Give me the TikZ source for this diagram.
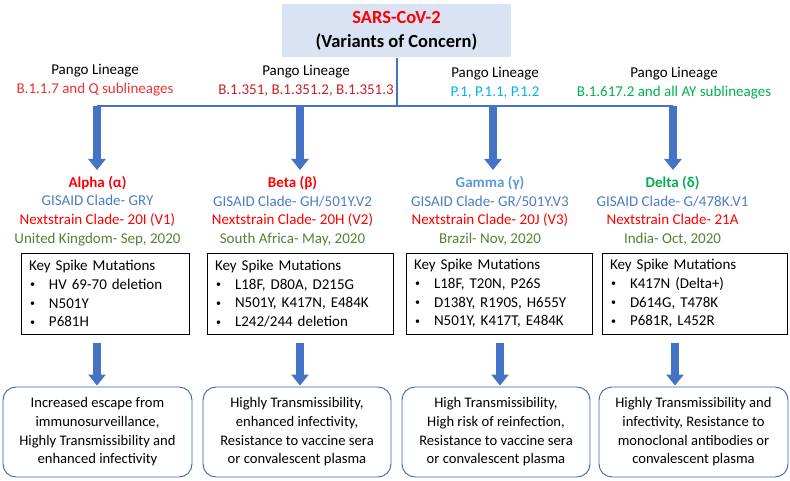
\documentclass[tikz,border=0pt]{standalone}
\usepackage{fontspec}
\setmainfont{Carlito}
\usetikzlibrary{arrows.meta,positioning}
\definecolor{bline}{HTML}{4472C4}
\definecolor{tfill}{HTML}{DAE3F3}
\definecolor{cred}{HTML}{FF0000}
\definecolor{cdred}{HTML}{C8202A}
\definecolor{cpango}{HTML}{F03030}
\definecolor{ccyan}{HTML}{00B0F0}
\definecolor{cgreen}{HTML}{00B050}
\definecolor{cgis}{HTML}{4A7CC6}
\definecolor{colive}{HTML}{548235}
\definecolor{cgamma}{HTML}{5B9BD5}
\definecolor{rbord}{HTML}{3A64AE}
\tikzset{
  body/.style={font=\fontsize{15}{18.6}\selectfont, align=center, inner sep=0pt},
  pango/.style={body},
  namebox/.style={body},
  keybox/.style={draw=black, line width=0.8pt, minimum width=168pt, minimum height=81pt,
     text width=152pt, align=left, inner xsep=8pt, inner ysep=0pt,
     font=\fontsize{15}{18.7}\selectfont},
  effbox/.style={draw=rbord, line width=0.9pt, rounded corners=13pt, minimum width=189pt,
     minimum height=90pt, align=center, inner sep=0pt, font=\fontsize{14.6}{18.6}\selectfont},
  thin/.style={draw=bline, line width=1.5pt},
  bigarrow/.style={draw=bline, line width=7.5pt,
     -{Triangle[width=17pt,length=11pt]}, shorten >=1pt},
}
\newcommand{\bul}[1]{\makebox[20pt][l]{\hspace{1pt}\raisebox{0.2ex}{\fontsize{10}{10}\selectfont\textbullet}}#1}
\begin{document}
\begin{tikzpicture}[x=1pt,y=-1pt]
\useasboundingbox (0,0) rectangle (790,481);
% title
\node[fill=tfill, minimum width=229pt, minimum height=53pt, align=center, inner sep=0pt,
  font=\fontsize{18.5}{24}\selectfont\bfseries] (title) at (396.5,31)
  {\textcolor{cred}{SARS-CoV-2}\\(Variants of Concern)};
% pango labels
\node[pango] (pa) at (95,80) {Pango Lineage\\\textcolor{cpango}{B.1.1.7 and Q sublineages}};
\node[pango] (pb) at (306,81) {Pango Lineage\\\textcolor{cdred}{B.1.351, B.1.351.2, B.1.351.3}};
\node[pango] (pg) at (495,83) {Pango Lineage\\\textcolor{ccyan}{P.1, P.1.1, P.1.2}};
\node[pango] (pd) at (674,83) {Pango Lineage\\\textcolor{cgreen}{B.1.617.2 and all AY sublineages}};
% connector tree
\coordinate (hub) at (397,106);
\coordinate (ca) at (97,106);
\coordinate (cb) at (300,106);
\coordinate (cg) at (493,106);
\coordinate (cd) at (673,106);
\draw[thin] (title.south -| hub) -- (hub);
\draw[thin] (ca) -- (cd);
% variant names
\node[namebox] (na) at (97.5,211) {\textcolor{cred}{\bfseries Alpha (α)}\\\textcolor{cgis}{GISAID Clade- GRY}\\\textcolor{cred}{Nextstrain Clade- 20I (V1)}\\\textcolor{colive}{United Kingdom- Sep, 2020}};
\node[namebox] (nb) at (292.5,211) {\textcolor{cred}{\bfseries Beta (β)}\\\textcolor{cgis}{GISAID Clade- GH/501Y.V2}\\\textcolor{cred}{Nextstrain Clade- 20H (V2)}\\\textcolor{colive}{South Africa- May, 2020}};
\node[namebox] (ng) at (490,211) {\textcolor{cgamma}{\bfseries Gamma (γ)}\\\textcolor{cgis}{GISAID Clade- GR/501Y.V3}\\\textcolor{cred}{Nextstrain Clade- 20J (V3)}\\\textcolor{colive}{Brazil- Nov, 2020}};
\node[namebox] (nd) at (672.5,211) {\textcolor{cgreen}{\bfseries Delta (δ)}\\\textcolor{cgis}{GISAID Clade- G/478K.V1}\\\textcolor{cred}{Nextstrain Clade- 21A}\\\textcolor{colive}{India- Oct, 2020}};
\coordinate (ta) at (97,171);
\coordinate (tb) at (300,171);
\coordinate (tg) at (493,171);
\coordinate (td) at (673,171);
\draw[bigarrow] (ca) -- (ta);
\draw[bigarrow] (cb) -- (tb);
\draw[bigarrow] (cg) -- (tg);
\draw[bigarrow] (cd) -- (td);
% key spike boxes
\node[keybox] (ka) at (105,293.5) {Key Spike Mutations\\\bul{HV 69-70 deletion}\\\bul{N501Y}\\\bul{P681H}};
\node[keybox, minimum width=186pt, text width=170pt] (kb) at (300,293.5) {Key Spike Mutations\\\bul{L18F, D80A, D215G}\\\bul{N501Y, K417N, E484K}\\\bul{L242/244 deletion}};
\node[keybox, minimum width=186pt, text width=170pt] (kg) at (499,293.5) {Key Spike Mutations\\\bul{L18F, T20N, P26S}\\\bul{D138Y, R190S, H655Y}\\\bul{N501Y, K417T, E484K}};
\node[keybox, minimum width=185pt, text width=169pt] (kd) at (694.5,293.5) {Key Spike Mutations\\\bul{K417N (Delta+)}\\\bul{D614G, T478K}\\\bul{P681R, L452R}};
% effect boxes
\node[effbox] (ea) at (97.5,432) {Increased escape from\\immunosurveillance,\\Highly Transmissibility and\\enhanced infectivity};
\node[effbox, minimum width=188pt] (eb) at (297,432) {Highly Transmissibility,\\enhanced infectivity,\\Resistance to vaccine sera\\or convalescent plasma};
\node[effbox, minimum width=188pt] (eg) at (496,432) {High Transmissibility,\\High risk of reinfection,\\Resistance to vaccine sera\\or convalescent plasma};
\node[effbox] (ed) at (693.5,432) {Highly Transmissibility and\\infectivity, Resistance to\\monoclonal antibodies or\\convalescent plasma};
% lower arrows
\coordinate (sa) at (97,343);
\coordinate (sb) at (300,343);
\coordinate (sg) at (500,343);
\coordinate (sd) at (675,343);
\draw[bigarrow] (sa) -- (sa |- ea.north);
\draw[bigarrow] (sb) -- (sb |- eb.north);
\draw[bigarrow] (sg) -- (sg |- eg.north);
\draw[bigarrow] (sd) -- (sd |- ed.north);
\end{tikzpicture}
\end{document}
